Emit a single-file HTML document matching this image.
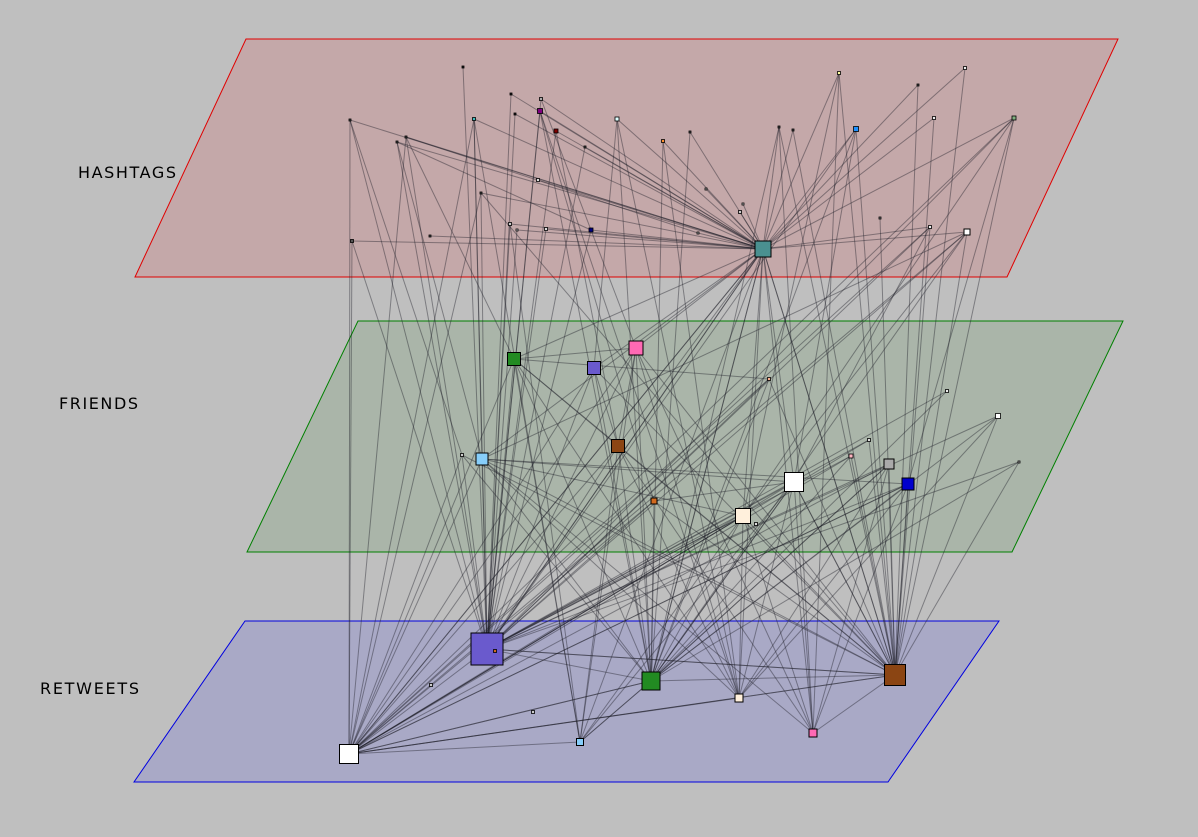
<!DOCTYPE html>
<html><head><meta charset="utf-8"><style>
html,body{margin:0;padding:0;background:#bfbfbf;}
svg{display:block;font-family:"DejaVu Sans","Liberation Sans",sans-serif;}
</style></head><body>
<svg id="chart" width="1198" height="837" viewBox="0 0 1198 837">
<rect width="1198" height="837" fill="#bfbfbf"/>
<polygon points="246,39 1118,39 1007,277 135,277" fill="#c4a8a9" stroke="#e00000" stroke-width="1"/>
<polygon points="358,321 1123,321 1012,552 247,552" fill="#aab5a9" stroke="#008000" stroke-width="1"/>
<polygon points="245,621 999,621 888,782 134,782" fill="#a9a9c6" stroke="#0000e0" stroke-width="1"/>
<text x="78" y="178" font-size="16" textLength="98" fill="#000">HASHTAGS</text>
<text x="59" y="409" font-size="16" textLength="79" fill="#000">FRIENDS</text>
<text x="40" y="694" font-size="16" textLength="99" fill="#000">RETWEETS</text>
<g id="edges"></g>
<g id="nodes"></g>
</svg>
<script>
const nodeX=[763,463,511,541,540,515,474,617,556,585,663,690,779,793,856,839,918,965,934,1014,350,406,397,538,481,706,743,740,880,510,517,546,591,698,930,967,352,430,
514,594,636,618,482,462,654,769,947,998,869,851,889,908,794,743,756,1019,
487,495,651,739,895,813,580,349,533,431];
const nodeY=[249,67,94,99,111,114,119,119,131,147,141,132,127,130,129,73,85,68,118,118,120,137,142,180,193,189,204,212,218,224,230,229,230,233,227,232,241,236,
359,368,348,446,459,455,501,379,391,416,440,456,464,484,482,516,524,462,
649,651,681,698,675,733,742,754,712,685];
const nodeSize=[16,2,2,3,5,2,3,4,4,2,3,2,2,2,5,3,2,3,3,4,2,2,2,3,2,2,2,3,2,3,2,3,4,2,3,6,3,2,
13,13,14,13,12,3,6,3,3,5,3,4,10,12,19,15,3,2,
32,3,18,8,21,8,7,19,3,3];
const nodeColor=["#4a9090","#222","#222","#aaa","#800080","#222","#40c0c0","#e0ffff","#800000","#555","#ff9030","#555","#555","#555","#1e90ff","#ffffa0","#555","#eee","#eee","#80b080","#555","#555","#555","#ddd","#555","#ccc","#ddd","#ccc","#888","#ccc","#eee","#ddd","#000080","#ccc","#eee","#fff","#555","#555",
"#228b22","#6a5acd","#ff69b4","#8b4513","#87cefa","#ccc","#d2691e","#ffb090","#eee","#fff","#ddd","#ffb6c1","#aaaaaa","#0000cd","#ffffff","#fff0dc","#ddd","#ccc",
"#6a5acd","#d2691e","#228b22","#fff0dc","#8b4513","#ff69b4","#87cefa","#ffffff","#ccc","#ccc"];
const edgeFrom=[0,0,0,0,0,0,0,0,0,0,0,0,0,0,0,0,0,0,0,0,0,0,0,0,0,0,0,0,0,0,0,0,0,0,0,0,0,0,0,0,0,0,0,0,0,0,
56,56,56,56,56,56,56,56,56,56,56,56,56,56,56,56,56,56,56,56,56,56,56,56,56,56,56,56,56,56,56,56,56,56,56,
58,58,58,58,58,58,58,58,58,58,58,58,58,58,58,58,58,58,58,58,58,
60,60,60,60,60,60,60,60,60,60,60,60,60,60,60,60,60,60,60,60,60,60,60,60,60,60,
63,63,63,63,63,63,63,63,63,63,63,63,63,63,63,63,63,63,63,63,63,
59,59,59,59,59,59,59,59,59,61,61,61,61,61,61,61,62,62,62,62,62,62,62,
42,42,42,41,41,41,38,44,45,35,35,34,19,19,14,15,7,8,3,4,6,20,21,22,21,22,
56,56,56,56,56,56,56,58,58,58,58,58,58,60,60,60,60,60,60,63,63,63,63,63,63,59,59,59,59,61,61,61,62,62,52,52,53,53,51,50];
const edgeTo=[2,3,4,5,6,7,8,9,10,11,12,13,14,15,16,17,18,19,20,21,22,23,24,25,26,27,29,30,31,32,33,34,35,36,37,38,39,40,41,42,52,53,56,58,63,60,
1,2,3,4,5,6,8,9,20,21,22,24,29,30,31,32,36,38,39,40,41,42,43,44,45,50,51,52,53,47,55,58,60,63,49,
4,7,10,11,12,14,38,39,40,41,44,52,53,50,51,47,46,60,62,63,45,
14,15,16,17,18,19,28,34,35,12,13,38,39,40,41,42,52,53,50,51,49,47,55,56,61,63,
6,20,21,36,24,38,39,40,41,42,43,52,53,51,50,49,59,62,58,60,44,
4,10,7,40,41,52,53,51,50,12,15,40,52,53,50,41,6,29,40,41,38,52,58,
52,51,53,38,40,39,40,52,38,53,42,52,53,51,52,53,39,41,40,44,42,43,38,42,33,32,
0,35,34,19,14,46,48,0,35,42,43,49,55,0,43,44,45,48,24,0,35,34,19,45,48,0,42,38,47,0,42,51,0,53,60,58,63,56,63,58];
const NS="http://www.w3.org/2000/svg";
const eg=document.getElementById('edges');
for(let i=0;i<edgeFrom.length;i++){
  const a=edgeFrom[i],b=edgeTo[i];
  const l=document.createElementNS(NS,'line');
  l.setAttribute('x1',nodeX[a]);l.setAttribute('y1',nodeY[a]);
  l.setAttribute('x2',nodeX[b]);l.setAttribute('y2',nodeY[b]);
  l.setAttribute('stroke','rgba(30,30,40,0.42)');l.setAttribute('stroke-width','1');
  
  
  eg.appendChild(l);
}
const ng=document.getElementById('nodes');
for(let i=0;i<nodeX.length;i++){
  const s=nodeSize[i];
  const r=document.createElementNS(NS,'rect');
  r.setAttribute('x',nodeX[i]-s/2);r.setAttribute('y',nodeY[i]-s/2);
  r.setAttribute('width',s);r.setAttribute('height',s);
  r.setAttribute('fill',nodeColor[i]);r.setAttribute('stroke','#000');r.setAttribute('stroke-width',s>5?1:0.8);
  
  
  ng.appendChild(r);
}
</script>
</body></html>
